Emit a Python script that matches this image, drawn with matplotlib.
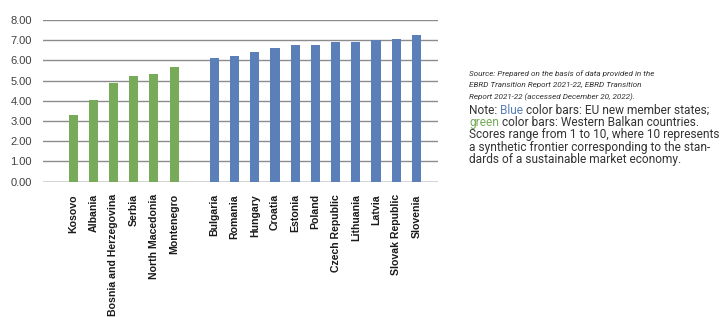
import matplotlib.pyplot as plt
import numpy as np

# Western Balkan countries (green) and EU new member states (blue)
wb_countries = ["Kosovo", "Albania", "Bosnia and Herzegovina", "Serbia",
                "North Macedonia", "Montenegro"]
wb_scores = [3.30, 4.03, 4.90, 5.23, 5.33, 5.66]

eu_countries = ["Bulgaria", "Romania", "Hungary", "Croatia", "Estonia", "Poland",
                "Czech Republic", "Lithuania", "Latvia", "Slovak Republic", "Slovenia"]
eu_scores = [6.14, 6.22, 6.44, 6.63, 6.77, 6.75, 6.90, 6.93, 7.00, 7.08, 7.28]

yticks = [0, 1, 2, 3, 4, 5, 6, 7, 8]

GREEN = "#77ab59"
BLUE = "#5b7fb8"
TXT = "#333333"

fig = plt.figure(figsize=(7.26, 3.17), dpi=100)
ax = fig.add_axes([43 / 726, 1 - 181.7 / 317, 395 / 726, 161.7 / 317])

# one empty slot between the two groups
x_wb = np.arange(len(wb_countries))
x_eu = np.arange(len(eu_countries)) + len(wb_countries) + 1

ax.bar(x_wb, wb_scores, width=0.45, color=GREEN, zorder=3)
ax.bar(x_eu, eu_scores, width=0.45, color=BLUE, zorder=3)

ax.set_ylim(0, 8)
ax.set_xlim(-1.49, x_eu[-1] + 1.07)
ax.set_yticks(yticks)
ax.set_yticklabels([f"{v:.2f}" for v in yticks], fontsize=8, color="#404040",
                   family="Liberation Sans")
ax.yaxis.grid(True, color="#8c8c8c", linewidth=1.0, zorder=0)
ax.tick_params(axis="y", length=0, pad=8)
ax.tick_params(axis="x", length=0, pad=9)

ax.set_xticks(np.concatenate([x_wb, x_eu]))
ax.set_xticklabels(wb_countries + eu_countries, rotation=90, fontsize=7.6,
                   fontweight="bold", color="#1a1a1a", family="Liberation Sans")

for s in ax.spines.values():
    s.set_visible(False)
ax.axhline(0, color="#8c8c8c", linewidth=1.0, zorder=2)

H = 317
x0 = 469 / 726

src_lines = ["Source: Prepared on the basis of data provided in the",
             "EBRD Transition Report 2021-22, EBRD Transition",
             "Report 2021-22 (accessed December 20, 2022)."]
for i, line in enumerate(src_lines):
    fig.text(x0, 1 - (73.3 + 12.1 * i) / H, line, fontsize=5.9, style="italic",
             color=TXT, family="Roboto", va="center")

# note lines, some with coloured words, placed piece by piece
fs = 8.6
note_lines = [
    [("Note: ", TXT), ("Blue", BLUE), (" color bars: EU new member states;", TXT)],
    [("green", GREEN), (" color bars: Western Balkan countries.", TXT)],
    [("Scores range from 1 to 10, where 10 represents", TXT)],
    [("a synthetic frontier corresponding to the stan-", TXT)],
    [("dards of a sustainable market economy.", TXT)],
]
fig.canvas.draw()
renderer = fig.canvas.get_renderer()
for i, pieces in enumerate(note_lines):
    x = x0
    y = 1 - (110.7 + 12.1 * i) / H
    for piece, col in pieces:
        t = fig.text(x, y, piece, fontsize=fs, color=col, family="Roboto",
                     va="center")
        x += t.get_window_extent(renderer).width / fig.bbox.width

fig.savefig("out.png", dpi=100)
